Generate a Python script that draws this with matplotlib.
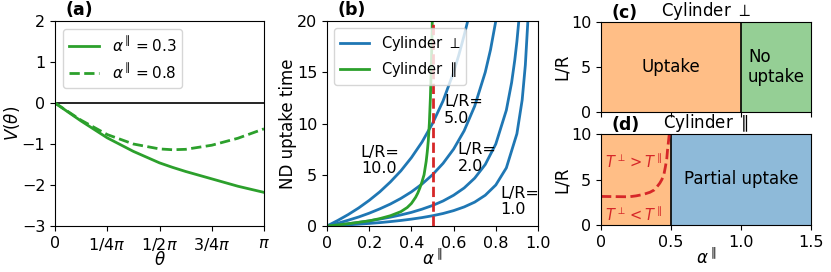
import numpy as np
import matplotlib
matplotlib.use('Agg')
import matplotlib.pyplot as plt

plt.rcParams['font.size'] = 11.5
plt.rcParams['axes.labelsize'] = 12
plt.rcParams['axes.titlesize'] = 12

# (a) potential V(theta), theta in units of pi
theta = [0, 0.125, 0.25, 0.375, 0.5, 0.5625, 0.625, 0.75, 0.875, 1.0]
v_03 = [0, -0.44, -0.85, -1.18, -1.46, -1.57, -1.67, -1.85, -2.03, -2.18]
v_08 = [0, -0.42, -0.77, -1.0, -1.12, -1.14, -1.13, -1.03, -0.86, -0.63]

# (b) uptake time vs alpha
alpha_perp = {
    10.0: [0, 0.05, 0.1, 0.15, 0.2, 0.25, 0.3, 0.35, 0.4, 0.45, 0.5, 0.55,
           0.6, 0.625, 0.65, 0.667],
    5.0: [0, 0.05, 0.1, 0.15, 0.2, 0.25, 0.3, 0.35, 0.4, 0.45, 0.5, 0.55,
          0.6, 0.65, 0.7, 0.75, 0.775, 0.8],
    2.0: [0, 0.05, 0.1, 0.15, 0.2, 0.25, 0.3, 0.35, 0.4, 0.45, 0.5, 0.55,
          0.6, 0.65, 0.7, 0.75, 0.8, 0.85, 0.875, 0.89, 0.9, 0.909],
    1.0: [0, 0.05, 0.1, 0.15, 0.2, 0.25, 0.3, 0.35, 0.4, 0.45, 0.5, 0.55,
          0.6, 0.65, 0.7, 0.75, 0.8, 0.85, 0.9, 0.925, 0.94, 0.952],
}
t_perp = {
    10.0: [0, 0.53, 1.11, 1.76, 2.5, 3.33, 4.29, 5.38, 6.67, 8.18, 10.0, 12.2,
           15.0, 16.7, 18.6, 20.0],
    5.0: [0, 0.26, 0.56, 0.88, 1.25, 1.67, 2.14, 2.69, 3.33, 4.09, 5.0, 6.11,
          7.5, 9.29, 11.7, 15.0, 17.2, 20.0],
    2.0: [0, 0.105, 0.22, 0.35, 0.5, 0.67, 0.86, 1.08, 1.33, 1.64, 2.0, 2.44,
          3.0, 3.71, 4.67, 6.0, 8.0, 11.3, 14.0, 16.2, 18.0, 20.0],
    1.0: [0, 0.053, 0.11, 0.18, 0.25, 0.33, 0.43, 0.54, 0.67, 0.82, 1.0, 1.22,
          1.5, 1.86, 2.33, 3.0, 4.0, 5.67, 9.0, 12.3, 15.7, 20.0],
}
alpha_par = [0, 0.05, 0.1, 0.15, 0.2, 0.25, 0.3, 0.35, 0.38, 0.4, 0.42, 0.43,
             0.44, 0.45, 0.46, 0.47, 0.475, 0.48, 0.485, 0.49, 0.495, 0.499]
t_par = [0, 0.1, 0.22, 0.36, 0.5, 0.72, 1.0, 1.4, 1.8, 2.2, 2.8, 3.2,
         3.7, 4.3, 5.0, 6.3, 7.2, 8.3, 10.0, 12.5, 16.0, 20.0]
lr_labels = [(10.0, 0.16, 6.4), (5.0, 0.555, 11.3), (2.0, 0.62, 6.6), (1.0, 0.82, 2.4)]

# (d) boundary T_perp = T_par
alpha_bd = [0.0, 0.1, 0.2, 0.25, 0.3, 0.35, 0.38, 0.4, 0.42, 0.435, 0.45,
            0.46, 0.47, 0.475, 0.48, 0.487, 0.49]
lr_bd = [3.14, 3.12, 3.1, 3.2, 3.35, 3.6, 3.85, 4.2, 4.6, 5.0, 5.6,
         6.4, 7.3, 8.2, 8.9, 9.9, 10.0]

green = 'tab:green'
blue = 'tab:blue'

fig = plt.figure(figsize=(8.31, 2.72), dpi=100)
W, H = 831, 272


def add_ax(l, t, r, b):
    return fig.add_axes([l / W, 1 - b / H, (r - l) / W, (b - t) / H])


ax_a = add_ax(55, 21, 264, 226)
ax_b = add_ax(327, 21, 538, 226)
ax_c = add_ax(601, 22, 811, 112)
ax_d = add_ax(601, 134, 811, 225)

# ---- (a)
ax_a.axhline(0, color='k', lw=1.2)
ax_a.plot(theta, v_03, color=green, lw=2, label=r'$\alpha^\parallel=0.3$')
ax_a.plot(theta, v_08, color=green, lw=2, ls='--', label=r'$\alpha^\parallel=0.8$')
ax_a.set_xlim(0, 1)
ax_a.set_ylim(-3, 2)
ax_a.set_xticks([0, 0.25, 0.5, 0.75, 1.0])
ax_a.set_xticklabels(['0', r'1/4$\pi$', r'1/2$\pi$', r'3/4$\pi$', r'$\pi$'])
ax_a.set_yticks([-3, -2, -1, 0, 1, 2])
ax_a.set_xlabel(r'$\theta$', labelpad=-1)
ax_a.set_ylabel(r'$V(\theta)$', labelpad=0)
ax_a.legend(loc='upper left', fontsize=11)
ax_a.text(0.05, 1.03, '(a)', transform=ax_a.transAxes, fontweight='bold',
          fontsize=12.5)

# ---- (b)
for lr in [10.0, 5.0, 2.0, 1.0]:
    ax_b.plot(alpha_perp[lr], t_perp[lr], color=blue, lw=2)
ax_b.plot([], [], color=blue, lw=2, label=r'Cylinder $\perp$')
ax_b.plot(alpha_par, t_par, color=green, lw=2, label=r'Cylinder $\parallel$')
ax_b.plot([0.5, 0.5], [0, 20], color='tab:red', lw=2, ls='--')
for lr, x, y in lr_labels:
    ax_b.text(x, y, 'L/R=\n%.1f' % lr, fontsize=11.5, va='center', ha='left',
              linespacing=1.15)
ax_b.set_xlim(0, 1)
ax_b.set_ylim(0, 20)
ax_b.set_xticks([0, 0.2, 0.4, 0.6, 0.8, 1.0])
ax_b.set_xticklabels(['0', '0.2', '0.4', '0.6', '0.8', '1.0'])
ax_b.set_xlabel(r'$\alpha^\parallel$', labelpad=-1)
ax_b.set_ylabel('ND uptake time', labelpad=0)
ax_b.legend(loc='upper left', fontsize=10.5)
ax_b.text(0.05, 1.03, '(b)', transform=ax_b.transAxes, fontweight='bold',
          fontsize=12.5)

# ---- (c)
ax_c.axvspan(0, 1.0, color='tab:orange', alpha=0.5, lw=0)
ax_c.axvspan(1.0, 1.5, color='tab:green', alpha=0.5, lw=0)
ax_c.axvline(1.0, color='k', lw=1.2)
ax_c.text(0.5, 5, 'Uptake', ha='center', va='center', fontsize=12)
ax_c.text(1.05, 5, 'No\nuptake', ha='left', va='center', fontsize=12,
          linespacing=1.1)
ax_c.set_xlim(0, 1.5)
ax_c.set_ylim(0, 10)
ax_c.set_xticks([0, 0.5, 1.0, 1.5])
ax_c.set_xticklabels([])
ax_c.set_yticks([0, 5, 10])
ax_c.set_ylabel('L/R', labelpad=0)
ax_c.set_title(r'Cylinder $\perp$', pad=3)
ax_c.text(0.05, 1.04, '(c)', transform=ax_c.transAxes, fontweight='bold',
          fontsize=12.5)

# ---- (d)
ax_d.axvspan(0, 0.5, color='tab:orange', alpha=0.5, lw=0)
ax_d.axvspan(0.5, 1.5, color='tab:blue', alpha=0.5, lw=0)
ax_d.axvline(0.5, color='k', lw=1.2)
ax_d.plot(alpha_bd, lr_bd, color='tab:red', lw=2, ls='--')
ax_d.text(0.03, 7.0, r'$T^\perp>T^\parallel$', color='tab:red', va='center',
          fontsize=10.5)
ax_d.text(0.03, 1.1, r'$T^\perp<T^\parallel$', color='tab:red', va='center',
          fontsize=10.5)
ax_d.text(1.0, 5, 'Partial uptake', ha='center', va='center', fontsize=12)
ax_d.set_xlim(0, 1.5)
ax_d.set_ylim(0, 10)
ax_d.set_xticks([0, 0.5, 1.0, 1.5])
ax_d.set_xticklabels(['0', '0.5', '1.0', '1.5'])
ax_d.set_yticks([0, 5, 10])
ax_d.set_xlabel(r'$\alpha^\parallel$', labelpad=-1)
ax_d.set_ylabel('L/R', labelpad=0)
ax_d.set_title(r'Cylinder $\parallel$', pad=3)
ax_d.text(0.05, 1.04, '(d)', transform=ax_d.transAxes, fontweight='bold',
          fontsize=12.5)

fig.savefig('out.png', dpi=100)
